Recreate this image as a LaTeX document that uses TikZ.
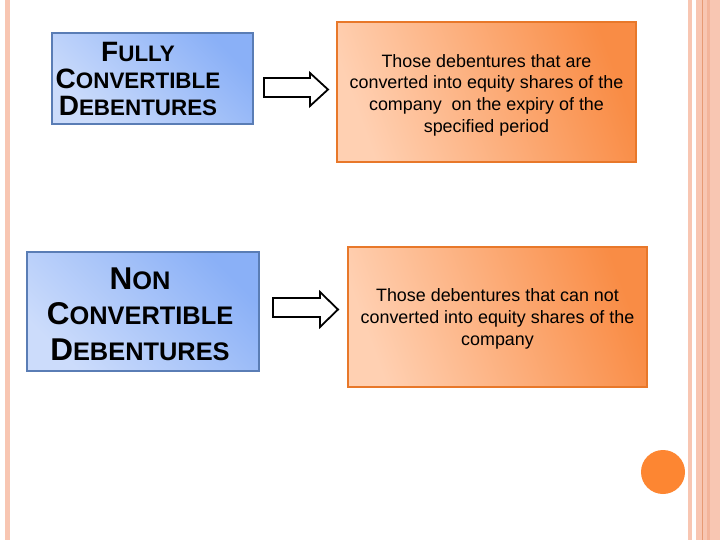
\documentclass[tikz,border=0pt]{standalone}
\usepackage{fontspec}
\setmainfont{Liberation Sans}
\definecolor{bluedark}{HTML}{8AB0F7}
\definecolor{bluelight}{HTML}{CCDCFB}
\definecolor{blueedge}{HTML}{5A7DB5}
\definecolor{ordark}{HTML}{F98C45}
\definecolor{orlight}{HTML}{FFD0B2}
\definecolor{oredge}{HTML}{E8782A}
\definecolor{stripe}{HTML}{F8C6B2}
\definecolor{stripedark}{HTML}{F3B49A}
\definecolor{stripeline}{HTML}{E79A74}
\definecolor{dot}{HTML}{FD8632}
\begin{document}
\begin{tikzpicture}[x=1pt,y=-1pt,
  bluebox/.style={draw=blueedge, line width=1.2pt, top color=bluedark, bottom color=bluelight, shading angle=-45, inner sep=0pt},
  orbox/.style={draw=oredge, line width=1.2pt, top color=ordark, bottom color=orlight, shading angle=-70, minimum width=299pt, minimum height=140pt, inner sep=0pt},
  ortext/.style={font=\fontsize{17.9}{21.7}\selectfont, align=center, inner sep=0pt},
  bluetext/.style={align=center, inner sep=0pt},
  blockarrow/.style={draw=black, fill=white, line width=1.8pt, line join=miter}]
\useasboundingbox (0,0) rectangle (720,540);
\fill[white] (0,0) rectangle (720,540);
% side stripes
\fill[stripe] (5,0) rectangle (10,540);
\fill[stripe] (688,0) rectangle (692,540);
\fill[stripe] (696,0) rectangle (720,540);
\fill[stripedark] (707,0) rectangle (710,540);
\fill[stripeline] (701.5,0) rectangle (702.7,540);
% boxes
\node[bluebox, minimum width=201pt, minimum height=91pt] (fcd) at (152.5,78.5) {};
\node[bluetext, font=\bfseries\fontsize{22.4}{27}\selectfont] (fcdt) at (138,79)
  {{\fontsize{28}{27}\selectfont F}ULLY\\
   {\fontsize{28}{27}\selectfont C}ONVERTIBLE\\
   {\fontsize{28}{27}\selectfont D}EBENTURES};
\node[bluebox, minimum width=232pt, minimum height=119pt] (ncd) at (143,311.5) {};
\node[bluetext, font=\bfseries\fontsize{25.4}{35.5}\selectfont] (ncdt) at (140,314)
  {{\fontsize{31.5}{35.5}\selectfont N}ON\\
   {\fontsize{31.5}{35.5}\selectfont C}ONVERTIBLE\\
   {\fontsize{31.5}{35.5}\selectfont D}EBENTURES};
\node[orbox] (fcdtext) at (486.5,92) {};
\node[ortext] (fcdt2) at ([yshift=-3pt]fcdtext.center)
  {Those debentures that are\\converted into equity shares of the\\company\ \ on the expiry of the\\specified period};
\node[orbox] (ncdtext) at (497.5,317) {};
\node[ortext] (ncdt2) at ([yshift=-2pt]ncdtext.center)
  {Those debentures that can not\\converted into equity shares of the\\company};
% block arrows
\draw[blockarrow] (264,78) -- (310,78) -- (310,73) -- (328,89.5) -- (310,106) -- (310,97) -- (264,97) -- cycle;
\draw[blockarrow] (273,298) -- (320,298) -- (320,292) -- (338,309.5) -- (320,327) -- (320,317) -- (273,317) -- cycle;
% dot
\fill[dot] (663,472) circle (22);
\end{tikzpicture}
\end{document}
